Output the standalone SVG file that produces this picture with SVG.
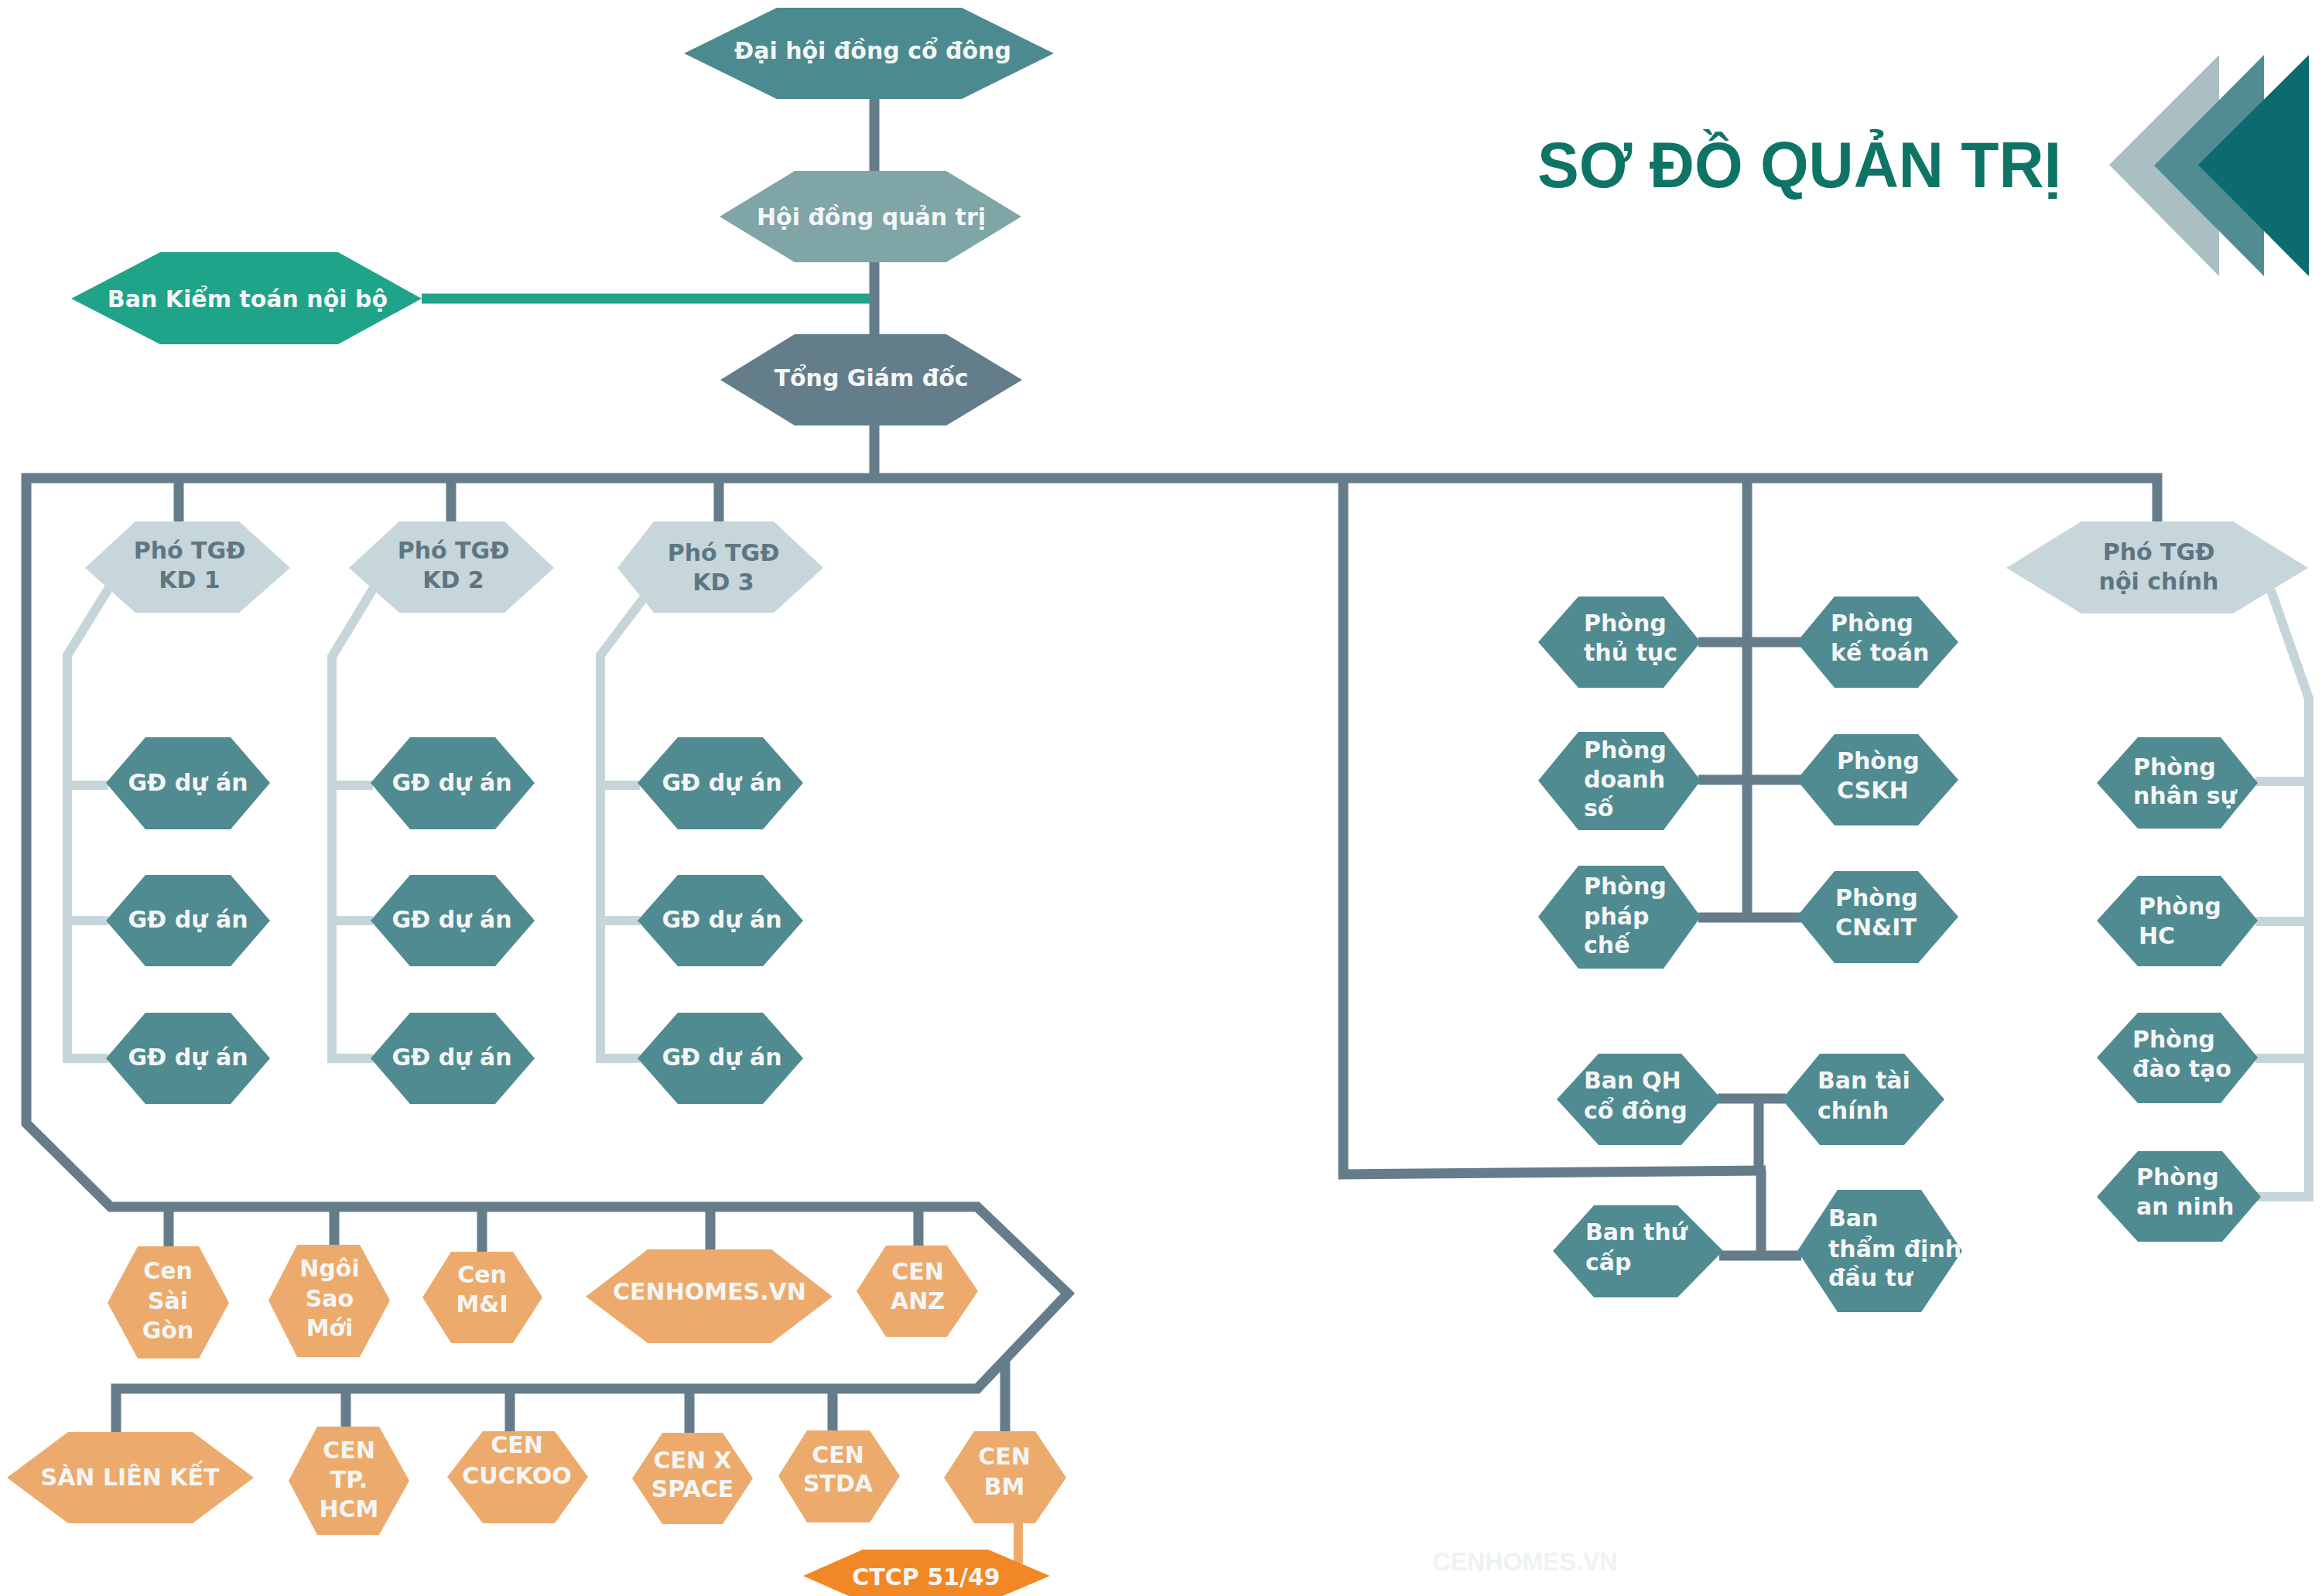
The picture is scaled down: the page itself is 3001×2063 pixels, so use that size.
<svg xmlns="http://www.w3.org/2000/svg" width="3001" height="2063" viewBox="0 0 3001 2063">
<style>
.ln{stroke:#657d8a;stroke-width:13;fill:none;stroke-linejoin:miter}
.lt{stroke:#c5d5da;stroke-width:12;fill:none}
.lo{stroke:#ecab6c;stroke-width:12;fill:none}
.t{font-family:"DejaVu Sans","Noto Sans",sans-serif;font-weight:bold;font-size:30px;fill:#f4f6f6}
.c{text-anchor:middle}
.teal{fill:#4f8b91}
.pho{fill:#c6d6db}
.pt{fill:#5e7682}
.or{fill:#ecab6c}
</style>
<rect width="3001" height="2063" fill="#ffffff"/>
<g id="title">
<polygon points="2868,71 2726,213 2868,357" fill="#a9bfc3"/>
<polygon points="2926,71 2784,214 2926,357" fill="#508c91"/>
<polygon points="2984,71 2841,213 2984,357" fill="#0b6b6f"/>
<text x="1987" y="242" font-family="'Liberation Sans',Arial,sans-serif" font-weight="bold" font-size="83" fill="#0d7466" textLength="677" lengthAdjust="spacingAndGlyphs">SƠ ĐỒ QUẢN TRỊ</text>
</g>
<text x="1971" y="2030" class="c" font-family="'Liberation Sans',Arial,sans-serif" font-weight="bold" font-size="33" fill="#eef2f3" textLength="239" lengthAdjust="spacingAndGlyphs">CENHOMES.VN</text>
<g id="connectors">
<path class="ln" d="M1130 128V618"/>
<path d="M545 386H1124" stroke="#1fa48a" stroke-width="13" fill="none"/>
<path class="ln" d="M2788 676V618H34V1452L143 1560H1263L1380 1672L1263 1795H150V1852"/>
<path class="ln" d="M231 618V676M583 618V676M929 618V676"/>
<path class="ln" d="M218 1560V1612M432 1560V1610M623 1560V1619M918 1560V1616M1187 1560V1611"/>
<path class="ln" d="M447 1795V1845M659 1795V1851M891 1795V1853M1076 1795V1850"/>
<path class="ln" d="M1299 1758V1851"/>
<path class="lo" d="M1316 1965V2021"/>
<path class="ln" d="M2258 618V1192M2195 830H2328M2195 1008H2328M2195 1186H2328"/>
<path class="ln" d="M1736 618V1518L2282 1513"/>
<path class="ln" d="M2273 1414V1513M2276 1513V1629M2220 1420H2308M2222 1623H2328"/>
<path class="lt" d="M150 745L87 847V1374M87 1015H140M87 1190H140M87 1368H140"/>
<path class="lt" d="M492 745L429 849V1374M429 1015H482M429 1190H482M429 1368H482"/>
<path class="lt" d="M848 752L776 847V1374M776 1015H827M776 1190H827M776 1368H827"/>
<path class="lt" d="M2935 763L2984 903V1547H2915M2915 1010H2984M2915 1191H2984M2915 1368H2984"/>
</g>
<g id="n-daihoi"><polygon points="884,69 1004,10 1243,10 1362,69 1243,128 1004,128" fill="#4b8b8f"/><text class="t c" x="1128" y="76">Đại hội đồng cổ đông</text></g>
<g id="n-hdqt"><polygon points="930,280 1027,221 1223,221 1320,280 1223,339 1027,339" fill="#7fa5a7"/><text class="t c" x="1126" y="291">Hội đồng quản trị</text></g>
<g id="n-tgd"><polygon points="931,491 1027,432 1223,432 1321,491 1223,550 1027,550" fill="#647d8a"/><text class="t c" x="1126" y="499">Tổng Giám đốc</text></g>
<g id="n-bkt"><polygon points="92,386 207,326 437,326 545,386 437,445 207,445" fill="#1fa48a"/><text class="t c" x="320" y="397">Ban Kiểm toán nội bộ</text></g>
<g id="n-kd1"><polygon class="pho" points="110,734 175,674 309,674 375,734 309,792 175,792"/><text class="t c pt" x="245" y="722">Phó TGĐ</text><text class="t c pt" x="245" y="760">KD 1</text></g>
<g id="n-kd2"><polygon class="pho" points="451,734 516,674 652,674 716,734 652,792 516,792"/><text class="t c pt" x="586" y="722">Phó TGĐ</text><text class="t c pt" x="586" y="760">KD 2</text></g>
<g id="n-kd3"><polygon class="pho" points="798,734 845,674 1000,674 1064,734 1000,792 845,792"/><text class="t c pt" x="935" y="725">Phó TGĐ</text><text class="t c pt" x="935" y="763">KD 3</text></g>
<g id="n-noichinh"><polygon class="pho" points="2593,734 2690,674 2886,674 2983,734 2886,793 2690,793"/><text class="t c pt" x="2790" y="724">Phó TGĐ</text><text class="t c pt" x="2790" y="762">nội chính</text></g>
<g id="n-gd11"><polygon class="teal" points="137,1012 188,953 298,953 349,1012 298,1072 188,1072"/><text class="t c" x="243" y="1022">GĐ dự án</text></g>
<g id="n-gd12"><polygon class="teal" points="137,1190 188,1131 298,1131 349,1190 298,1249 188,1249"/><text class="t c" x="243" y="1199">GĐ dự án</text></g>
<g id="n-gd13"><polygon class="teal" points="137,1368 188,1309 298,1309 349,1368 298,1427 188,1427"/><text class="t c" x="243" y="1377">GĐ dự án</text></g>
<g id="n-gd21"><polygon class="teal" points="479,1012 530,953 640,953 691,1012 640,1072 530,1072"/><text class="t c" x="584" y="1022">GĐ dự án</text></g>
<g id="n-gd22"><polygon class="teal" points="479,1190 530,1131 640,1131 691,1190 640,1249 530,1249"/><text class="t c" x="584" y="1199">GĐ dự án</text></g>
<g id="n-gd23"><polygon class="teal" points="479,1368 530,1309 640,1309 691,1368 640,1427 530,1427"/><text class="t c" x="584" y="1377">GĐ dự án</text></g>
<g id="n-gd31"><polygon class="teal" points="824,1012 876,953 986,953 1038,1012 986,1072 876,1072"/><text class="t c" x="933" y="1022">GĐ dự án</text></g>
<g id="n-gd32"><polygon class="teal" points="824,1190 876,1131 986,1131 1038,1190 986,1249 876,1249"/><text class="t c" x="933" y="1199">GĐ dự án</text></g>
<g id="n-gd33"><polygon class="teal" points="824,1368 876,1309 986,1309 1038,1368 986,1427 876,1427"/><text class="t c" x="933" y="1377">GĐ dự án</text></g>
<g id="n-thutuc"><polygon class="teal" points="1988,830 2040,771 2150,771 2198,830 2150,889 2040,889"/><text class="t" x="2047" y="816">Phòng</text><text class="t" x="2047" y="854">thủ tục</text></g>
<g id="n-doanhso"><polygon class="teal" points="1988,1009 2040,946 2150,946 2198,1009 2150,1073 2040,1073"/><text class="t" x="2047" y="980">Phòng</text><text class="t" x="2047" y="1018">doanh</text><text class="t" x="2047" y="1055">số</text></g>
<g id="n-phapche"><polygon class="teal" points="1988,1185 2040,1119 2150,1119 2198,1185 2150,1252 2040,1252"/><text class="t" x="2047" y="1156">Phòng</text><text class="t" x="2047" y="1195">pháp</text><text class="t" x="2047" y="1232">chế</text></g>
<g id="n-ketoan"><polygon class="teal" points="2322,830 2371,771 2479,771 2531,830 2479,889 2371,889"/><text class="t" x="2366" y="816">Phòng</text><text class="t" x="2366" y="854">kế toán</text></g>
<g id="n-cskh"><polygon class="teal" points="2322,1008 2371,949 2479,949 2531,1008 2479,1067 2371,1067"/><text class="t" x="2374" y="994">Phòng</text><text class="t" x="2374" y="1032">CSKH</text></g>
<g id="n-cnit"><polygon class="teal" points="2322,1185 2371,1126 2479,1126 2531,1185 2479,1245 2371,1245"/><text class="t" x="2372" y="1171">Phòng</text><text class="t" x="2372" y="1209">CN&amp;IT</text></g>
<g id="n-banqh"><polygon class="teal" points="2012,1421 2066,1362 2173,1362 2225,1421 2173,1480 2066,1480"/><text class="t" x="2047" y="1407">Ban QH</text><text class="t" x="2047" y="1446">cổ đông</text></g>
<g id="n-taichinh"><polygon class="teal" points="2303,1421 2352,1362 2461,1362 2513,1421 2461,1480 2352,1480"/><text class="t" x="2349" y="1407">Ban tài</text><text class="t" x="2349" y="1446">chính</text></g>
<g id="n-thucap"><polygon class="teal" points="2007,1617 2060,1558 2168,1558 2227,1617 2168,1677 2060,1677"/><text class="t" x="2049" y="1603">Ban thứ</text><text class="t" x="2049" y="1642">cấp</text></g>
<g id="n-thamdinh"><polygon class="teal" points="2323,1617 2375,1538 2483,1538 2536,1617 2483,1696 2375,1696"/><text class="t" x="2363" y="1585">Ban</text><text class="t" x="2363" y="1625">thẩm định</text><text class="t" x="2363" y="1662">đầu tư</text></g>
<g id="n-nhansu"><polygon class="teal" points="2710,1012 2763,953 2870,953 2918,1012 2870,1071 2763,1071"/><text class="t" x="2757" y="1002">Phòng</text><text class="t" x="2757" y="1039">nhân sự</text></g>
<g id="n-hc"><polygon class="teal" points="2710,1190 2763,1132 2870,1132 2918,1190 2870,1249 2763,1249"/><text class="t" x="2764" y="1182">Phòng</text><text class="t" x="2764" y="1220">HC</text></g>
<g id="n-daotao"><polygon class="teal" points="2710,1367 2763,1309 2870,1309 2918,1367 2870,1426 2763,1426"/><text class="t" x="2756" y="1354">Phòng</text><text class="t" x="2756" y="1392">đào tạo</text></g>
<g id="n-anninh"><polygon class="teal" points="2710,1547 2763,1488 2872,1488 2922,1547 2872,1605 2763,1605"/><text class="t" x="2761" y="1532">Phòng</text><text class="t" x="2761" y="1570">an ninh</text></g>
<g id="n-censaigon"><polygon class="or" points="139,1684 178,1611 257,1611 296,1684 257,1756 178,1756"/><text class="t c" x="217" y="1653">Cen</text><text class="t c" x="217" y="1692">Sài</text><text class="t c" x="217" y="1730">Gòn</text></g>
<g id="n-ngoisao"><polygon class="or" points="347,1681 384,1609 465,1609 504,1681 465,1754 384,1754"/><text class="t c" x="426" y="1650">Ngôi</text><text class="t c" x="426" y="1689">Sao</text><text class="t c" x="426" y="1727">Mới</text></g>
<g id="n-cenmi"><polygon class="or" points="546,1677 583,1618 663,1618 701,1677 663,1736 583,1736"/><text class="t c" x="623" y="1658">Cen</text><text class="t c" x="623" y="1696">M&amp;I</text></g>
<g id="n-cenhomes"><polygon class="or" points="757,1676 837,1615 997,1615 1076,1676 997,1736 837,1736"/><text class="t c" x="917" y="1680">CENHOMES.VN</text></g>
<g id="n-cenanz"><polygon class="or" points="1107,1669 1145,1610 1224,1610 1264,1669 1224,1728 1145,1728"/><text class="t c" x="1186" y="1654">CEN</text><text class="t c" x="1186" y="1692">ANZ</text></g>
<g id="n-sanlienket"><polygon class="or" points="9,1910 88,1851 249,1851 328,1910 249,1969 88,1969"/><text class="t c" x="168" y="1920">SÀN LIÊN KẾT</text></g>
<g id="n-cenhcm"><polygon class="or" points="373,1914 410,1844 490,1844 529,1914 490,1984 410,1984"/><text class="t c" x="451" y="1885">CEN</text><text class="t c" x="451" y="1923">TP.</text><text class="t c" x="451" y="1961">HCM</text></g>
<g id="n-cuckoo"><polygon class="or" points="578,1909 624,1850 717,1850 760,1909 717,1969 624,1969"/><text class="t c" x="668" y="1878">CEN</text><text class="t c" x="668" y="1918">CUCKOO</text></g>
<g id="n-xspace"><polygon class="or" points="817,1911 856,1852 934,1852 973,1911 934,1970 856,1970"/><text class="t c" x="895" y="1898">CEN X</text><text class="t c" x="895" y="1935">SPACE</text></g>
<g id="n-stda"><polygon class="or" points="1006,1908 1043,1849 1124,1849 1163,1908 1124,1968 1043,1968"/><text class="t c" x="1083" y="1891">CEN</text><text class="t c" x="1083" y="1928">STDA</text></g>
<g id="n-cenbm"><polygon class="or" points="1220,1910 1259,1850 1338,1850 1378,1910 1338,1969 1259,1969"/><text class="t c" x="1298" y="1893">CEN</text><text class="t c" x="1298" y="1932">BM</text></g>
<g id="n-ctcp"><polygon points="1038,2037 1115,2003 1277,2003 1357,2037 1277,2071 1115,2071" fill="#f28726"/><text class="t c" x="1197" y="2049">CTCP 51/49</text></g>
</svg>
